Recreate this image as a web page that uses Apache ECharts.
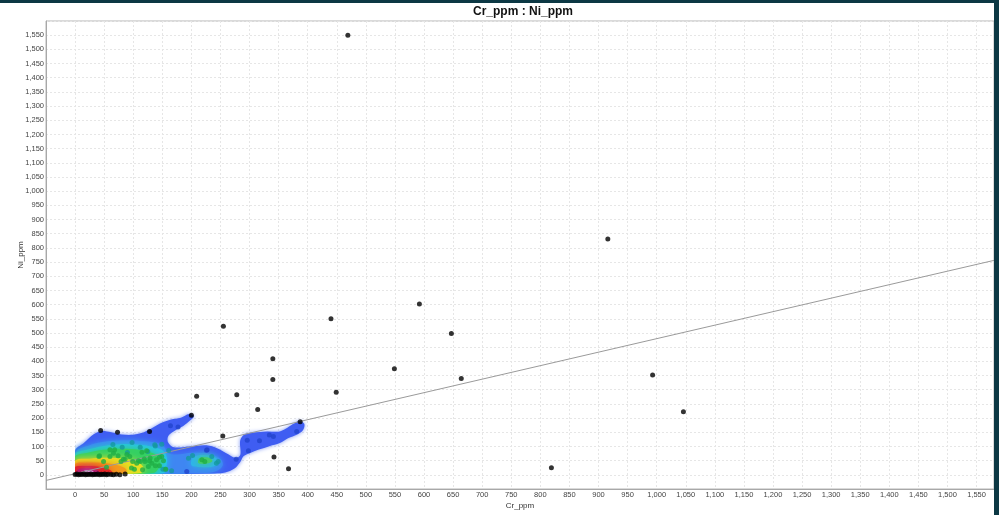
<!DOCTYPE html>
<html>
<head>
<meta charset="utf-8">
<title>Cr_ppm : Ni_ppm</title>
<script src="https://cdn.jsdelivr.net/npm/echarts@6/dist/echarts.min.js"></script>
<style>
  html, body { margin: 0; padding: 0; background: #0c3844; }
  #board { position: absolute; left: 0; top: 3px; width: 994px; height: 512px; background: #fff; }
</style>
</head>
<body>
<div id="board"></div>
<script>
// 坐标轴名称
var xName = "Cr_ppm";
var yName = "Ni_ppm";

// 普通散点 (黑色)
var blackPoints = [
  [469, 1550], [916, 831], [592, 602], [647, 498], [255, 524], [440, 550],
  [549, 374], [664, 340], [993, 352], [1046, 222], [819, 25],
  [340, 409], [340, 336], [449, 291], [209, 277], [278, 282], [314, 230],
  [200, 210], [254, 137], [387, 187], [342, 63], [367, 21],
  [44, 156], [73, 150], [128, 153],
  [0, 1], [3, 3], [6, 0], [9, 2], [12, 1], [15, 3], [18, 0], [21, 2], [24, 1],
  [27, 3], [30, 0], [33, 2], [36, 1], [39, 3], [42, 0], [45, 2], [48, 1],
  [51, 3], [54, 0], [57, 2], [62, 1], [66, 0], [71, 2], [77, 0], [86, 3]
];

// 密度区内的点 (按密度着色)
var bluePoints = [
  [164, 173], [177, 169], [296, 122], [298, 85], [317, 120], [334, 140],
  [341, 135], [381, 153], [192, 12], [277, 55], [227, 88], [226, 87]
];
var tealPoints = [
  [65, 107], [98, 114], [81, 97], [112, 97], [138, 102], [149, 108],
  [161, 86], [125, 82], [137, 106], [151, 20], [155, 20], [166, 14],
  [195, 58], [202, 68], [235, 65], [243, 41], [246, 47], [90, 79]
];
var greenPoints = [
  [42, 67], [66, 76], [60, 65], [74, 67], [83, 55], [94, 65], [109, 50],
  [120, 47], [129, 59], [140, 53], [149, 65], [145, 32], [156, 20], [97, 24],
  [126, 29], [60, 88], [115, 80], [49, 47], [54, 27], [79, 47], [86, 55],
  [99, 47], [106, 41], [112, 47], [119, 56], [128, 49], [132, 41], [138, 32],
  [145, 62], [152, 50], [102, 20], [116, 18], [218, 53], [223, 47], [68, 88],
  [89, 72], [123, 85], [41, 65]
];

// 密度等值区 (从外到内)
var densOuter = [
  [0, 5], [0, 85], [15, 112], [32, 143], [45, 154], [62, 150], [80, 142],
  [100, 141], [114, 147], [128, 160], [140, 174], [152, 186], [165, 195],
  [182, 201], [196, 214], [204, 206], [198, 192], [186, 172], [170, 154],
  [160, 136], [160, 114], [170, 97], [196, 100], [226, 104], [245, 93],
  [260, 76], [276, 60], [284, 70], [284, 122], [292, 143], [306, 149],
  [330, 153], [350, 152], [362, 162], [374, 178], [385, 189], [394, 180],
  [392, 158], [382, 142], [366, 129], [352, 112], [334, 101], [316, 89],
  [300, 76], [290, 66], [284, 45], [274, 22], [258, 8], [240, 5]
];
var densBlue = [
  [0, 5], [0, 78], [25, 104], [55, 118], [90, 122], [120, 118], [145, 110],
  [154, 96], [158, 78], [175, 72], [200, 78], [230, 74], [250, 56],
  [254, 34], [244, 14], [225, 6]
];
var densCyan = [
  [0, 5], [0, 72], [20, 88], [50, 102], [80, 108], [110, 106], [135, 98],
  [152, 84], [158, 58], [157, 30], [152, 6]
];
var densCyanMid = [
  [200, 34], [203, 62], [222, 70], [242, 60], [247, 40], [234, 28], [214, 28]
];
var densGreen = [
  [0, 5], [0, 64], [20, 77], [50, 88], [80, 92], [110, 88], [134, 76],
  [146, 56], [144, 25], [134, 6]
];
var densGreenMid = [
  [212, 42], [214, 58], [230, 60], [236, 48], [226, 40]
];
var densYellow = [
  [0, 5], [0, 50], [25, 57], [55, 60], [88, 55], [110, 42], [118, 22], [112, 6]
];
var densOrange = [
  [0, 5], [0, 38], [20, 43], [48, 42], [72, 35], [88, 20], [86, 6]
];
var densRed = [
  [0, 5], [0, 28], [15, 31], [38, 29], [58, 20], [64, 7]
];
var densMagenta = [
  [3, 5], [5, 19], [20, 23], [37, 18], [42, 7]
];
var densCore = [
  [13, 8], [16, 15], [27, 16], [32, 10]
];
var densLevels = [densOuter, densBlue, densCyan, densCyanMid, densGreen, densGreenMid,
  densYellow, densOrange, densRed, densMagenta, densCore];
var densColors = ["#3f5df2", "#3f86f2", "#27c4e6", "#2fb4ea", "#35d063", "#45cc6a",
  "#e4e022", "#f39a1e", "#e52525", "#b5196a", "#d68ad6"];

// 回归线参数
var fitSlope = 0.476;
var fitIntercept = 4;
var xMin = -50, xMax = 1580;
var yMin = -50, yMax = 1600;

function tickLabel(v) {
  if (v < 0 || v % 50 !== 0 || v > 1550) return "";
  return v.toLocaleString("en-US");
}

var myChart = echarts.init(document.getElementById("board"));

var option = {
  animation: false,
  title: {
    text: "Cr_ppm : Ni_ppm",
    left: 473,
    top: 3,
    padding: 0,
    textStyle: { fontFamily: "Liberation Sans", fontSize: 12, fontWeight: "bold", color: "#111" }
  },
  grid: {
    left: 46, right: 0, top: 18, bottom: 26,
    containLabel: false,
    outerBoundsMode: "none",
    show: true, borderColor: "#b4b4b4", borderWidth: 1
  },
  xAxis: {
    type: "value",
    min: xMin, max: xMax, interval: 50,
    name: xName, nameLocation: "middle", nameGap: 13, nameMoveOverlap: false,
    nameTextStyle: { fontFamily: "Liberation Sans", fontSize: 8, color: "#333" },
    axisLine: { show: true, onZero: false, lineStyle: { color: "#a8a8a8" } },
    axisTick: { show: false },
    axisLabel: { formatter: tickLabel, fontFamily: "Liberation Sans", fontSize: 7.5, color: "#444", margin: 2, showMaxLabel: false },
    splitLine: { show: true, lineStyle: { color: "#e6e6e6", type: [2, 2] } }
  },
  yAxis: {
    type: "value",
    min: yMin, max: yMax, interval: 50,
    name: yName, nameLocation: "middle", nameGap: 21, nameRotate: 90, nameMoveOverlap: false,
    nameTextStyle: { fontFamily: "Liberation Sans", fontSize: 8, color: "#333" },
    axisLine: { show: true, onZero: false, lineStyle: { color: "#a8a8a8" } },
    axisTick: { show: false },
    axisLabel: { formatter: tickLabel, fontFamily: "Liberation Sans", fontSize: 7.5, color: "#444", margin: 2 },
    splitLine: { show: true, lineStyle: { color: "#e6e6e6", type: [2, 2] } }
  },
  series: [
    {
      // 密度图
      type: "custom",
      z: 1,
      clip: true,
      silent: true,
      data: densLevels.map(function (pts, i) { return [pts[0][0], pts[0][1], i]; }),
      encode: { x: 0, y: 1 },
      renderItem: function (params, api) {
        var idx = api.value(2);
        var pts = densLevels[idx].map(function (p) { return api.coord(p); });
        // 密度区只在 x>=0, y>=3 的范围内
        var c0 = api.coord([0, 3]);
        var c1 = api.coord([xMax, yMax]);
        return {
          type: "polygon",
          shape: { points: pts, smooth: 0.35 },
          clipPath: {
            type: "rect",
            shape: { x: c0[0], y: c1[1], width: c1[0] - c0[0], height: c0[1] - c1[1] }
          },
          style: {
            fill: densColors[idx],
            shadowBlur: idx === 0 ? 4 : 7,
            shadowColor: idx === 0 ? "#7e97f5" : densColors[idx]
          }
        };
      }
    },
    {
      // 回归线
      type: "line",
      z: 3,
      symbol: "none",
      silent: true,
      lineStyle: { color: "#9a9a9a", width: 1 },
      data: [[xMin, fitIntercept + fitSlope * xMin], [xMax, fitIntercept + fitSlope * xMax]]
    },
    {
      type: "scatter", z: 4, symbolSize: 5,
      itemStyle: { color: "#2244cc" }, data: bluePoints
    },
    {
      type: "scatter", z: 4, symbolSize: 5,
      itemStyle: { color: "#14999e" }, data: tealPoints
    },
    {
      type: "scatter", z: 4, symbolSize: 5,
      itemStyle: { color: "#1fae45" }, data: greenPoints
    },
    {
      type: "scatter", z: 5, symbolSize: 5,
      itemStyle: { color: "#000" }, data: blackPoints
    }
  ]
};

myChart.setOption(option);
</script>
</body>
</html>
